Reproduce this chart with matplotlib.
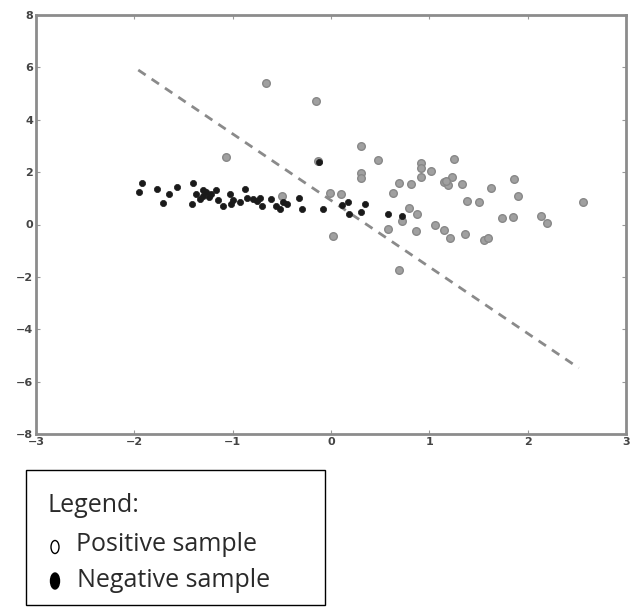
import matplotlib
matplotlib.use("Agg")
import matplotlib.pyplot as plt
from matplotlib.patches import Ellipse, Rectangle

pos_x = [-0.66, -0.15, -1.07, -0.13, 0.30, 0.48, 0.92, 0.92, 1.02, 1.25, 0.30, 0.31, 0.92, 0.69,
         0.81, 1.15, 1.23, 1.19, 1.17, 1.33, 1.63, 1.86, 1.90, 2.56, 0.63, 1.38, 1.51, 1.74, 1.85,
         2.14, 2.20, -0.01, 0.10, 0.79, 0.87, 1.06, 1.15, 1.21, 1.36, 1.56, 1.60, 0.02, 0.58,
         0.72, 0.86, 0.69, -0.50]
pos_y = [5.40, 4.71, 2.58, 2.44, 3.00, 2.46, 2.34, 2.16, 2.06, 2.50, 1.96, 1.78, 1.82, 1.58,
         1.55, 1.62, 1.81, 1.52, 1.68, 1.55, 1.39, 1.72, 1.08, 0.86, 1.20, 0.91, 0.85, 0.25, 0.30,
         0.32, 0.06, 1.20, 1.16, 0.62, 0.40, -0.02, -0.22, -0.53, -0.37, -0.60, -0.52, -0.44, -0.19,
         0.15, -0.24, -1.72, 1.08]

neg_x = [-1.92, -1.95, -1.77, -1.71, -1.65, -1.57, -1.40, -1.41, -1.37, -1.30, -1.33, -1.27, -1.24,
         -1.30, -1.17, -1.15, -1.10, -1.03, -1.00, -1.02, -0.87, -0.85, -0.79, -0.75, -0.70, -0.72,
         -0.61, -0.56, -0.52, -0.49, -0.45, -0.33, -0.30, -0.08, -0.12, 0.11, 0.17, 0.18, 0.35,
         0.31, 0.58, 0.72, -1.22, -0.93]
neg_y = [1.58, 1.26, 1.35, 0.84, 1.16, 1.43, 1.57, 0.78, 1.18, 1.08, 0.98, 1.25, 1.05,
         1.30, 1.30, 0.94, 0.71, 1.16, 0.94, 0.80, 1.36, 1.00, 0.97, 0.88, 0.72, 1.02,
         0.99, 0.70, 0.60, 0.86, 0.78, 1.00, 0.58, 0.61, 2.40, 0.76, 0.86, 0.42, 0.78,
         0.48, 0.42, 0.31, 1.15, 0.87]

line_x = [-1.96, 2.52]
line_y = [5.90, -5.48]

x_ticks = [-3, -2, -1, 0, 1, 2, 3]
y_ticks = [-8, -6, -4, -2, 0, 2, 4, 6, 8]

legend_title = "Legend:"
legend_labels = ["Positive sample", "Negative sample"]

fig = plt.figure(figsize=(6.39, 6.15), dpi=100)
ax = fig.add_axes([36/639, 1-434/615, 590/639, 419/615])

ax.scatter(pos_x, pos_y, s=30, c="#a0a0a0", edgecolors="#888888", linewidths=1.0, zorder=2)
ax.scatter(neg_x, neg_y, s=20, c="#1a1a1a", edgecolors="#1a1a1a", linewidths=0.5, zorder=3)
ax.plot(line_x, line_y, linestyle=(0, (3.2, 2.6)), color="#8a8a8a", linewidth=2.0, zorder=1)

ax.set_xlim(-3, 3)
ax.set_ylim(-8, 8)
ax.set_xticks(x_ticks)
ax.set_yticks(y_ticks)
ax.set_xticklabels([str(t).replace("-", "\u2212") for t in x_ticks])
ax.set_yticklabels([str(t).replace("-", "\u2212") for t in y_ticks])
ax.tick_params(direction="in", length=3, width=0.8, color="#999999", labelcolor="#444444",
               labelsize=8, top=True, right=True, pad=2)
for lab in ax.get_xticklabels() + ax.get_yticklabels():
    lab.set_fontweight("bold")
for sp in ax.spines.values():
    sp.set_color("#8c8c8c")
    sp.set_linewidth(2.0)

# legend box
fig.patches.append(Rectangle((26/639, 1-605/615), 299/639, 135/615, transform=fig.transFigure,
                             facecolor="white", edgecolor="black", linewidth=1.0))
fig.text(47/639, 1-512/615, legend_title, fontsize=18, family="Open Sans", color="#2a2a2a", va="baseline")
fig.text(76/639, 1-551/615, legend_labels[0], fontsize=18, family="Open Sans", color="#2a2a2a", va="baseline")
fig.text(77/639, 1-587/615, legend_labels[1], fontsize=18, family="Open Sans", color="#2a2a2a", va="baseline")
fig.patches.append(Ellipse((55/639, 1-547/615), 8/639, 13/615, transform=fig.transFigure,
                           facecolor="white", edgecolor="black", linewidth=1.0))
fig.patches.append(Ellipse((55/639, 1-581/615), 9/639, 16/615, transform=fig.transFigure,
                           facecolor="black", edgecolor="black", linewidth=1.0))

fig.savefig("out.png", dpi=100)
